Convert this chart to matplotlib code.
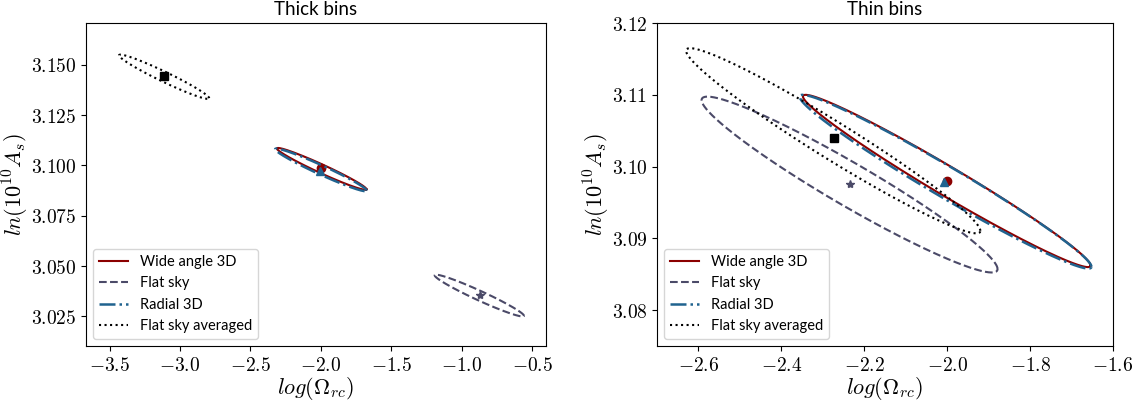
import numpy as np
import matplotlib.pyplot as plt
from matplotlib.ticker import FuncFormatter

plt.rcParams['mathtext.fontset'] = 'cm'

# series labels and styles
labels = ['Wide angle 3D', 'Flat sky', 'Radial 3D', 'Flat sky averaged']
colors = ['#8b0000', '#4b4a68', '#20638f', 'black']
styles = ['-', '--', '-.', ':']
markers = ['o', '*', '^', 's']

# thick bins: best fit (x, y), contour half widths and correlation
thick_x = [-1.995, -0.876, -2.0, -3.113]
thick_y = [3.0983, 3.0353, 3.0978, 3.1441]
thick_pt_x = [-2.0, -0.874, -2.01, -3.111]
thick_pt_y = [3.0985, 3.0355, 3.0972, 3.1443]
thick_sx = [0.318, 0.317, 0.325, 0.32]
thick_sy = [0.0104, 0.0104, 0.0106, 0.011]
thick_rho = [-0.974, -0.968, -0.972, -0.968]

# thin bins
thin_x = [-2.001, -2.2355, -2.004, -2.275]
thin_y = [3.098, 3.0975, 3.0979, 3.1036]
thin_pt_x = [-2.0, -2.235, -2.008, -2.272]
thin_pt_y = [3.098, 3.0976, 3.0979, 3.104]
thin_sx = [0.347, 0.357, 0.352, 0.355]
thin_sy = [0.0120, 0.01225, 0.0121, 0.0129]
thin_rho = [-0.981, -0.96, -0.979, -0.972]


def contour(cx, cy, sx, sy, rho):
    t = np.linspace(0, 2 * np.pi, 400)
    x = cx + sx * np.cos(t)
    y = cy + sy * (rho * np.cos(t) + np.sqrt(1 - rho**2) * np.sin(t))
    return x, y


fig = plt.figure(figsize=(11.35, 4.01), dpi=100)
ax1 = fig.add_axes([0.0758, 0.137, 0.405, 0.8055])
ax2 = fig.add_axes([0.5789, 0.137, 0.4017, 0.8055])

panels = [
    (ax1, 'Thick bins', thick_x, thick_y, thick_pt_x, thick_pt_y, thick_sx, thick_sy, thick_rho),
    (ax2, 'Thin bins', thin_x, thin_y, thin_pt_x, thin_pt_y, thin_sx, thin_sy, thin_rho),
]

for ax, title, cx, cy, px, py, sx, sy, rho in panels:
    for i in range(4):
        x, y = contour(cx[i], cy[i], sx[i], sy[i], rho[i])
        lw = 1.8 if styles[i] == '-.' else 1.5
        ax.plot(x, y, ls=styles[i], color=colors[i], lw=lw, label=labels[i])
        ax.plot(px[i], py[i], marker=markers[i], color=colors[i], ms=6, ls='none')
    ax.set_title(title, fontsize=13.5, family='Lato')
    ax.set_xlabel(r'$log(\Omega_{rc})$', fontsize=16, labelpad=0)
    ax.set_ylabel(r'$ln(10^{10}A_s)$', fontsize=16, labelpad=0)
    ax.legend(loc='lower left', prop={'family': 'Lato', 'size': 10.5})
    ax.tick_params(labelsize=14)

ax1.set_xlim(-3.667, -0.405)
ax1.set_ylim(3.0102, 3.1708)
ax1.set_xticks(np.arange(-3.5, -0.4, 0.5))
ax1.set_yticks(np.arange(3.025, 3.16, 0.025))
ax1.xaxis.set_major_formatter(FuncFormatter(lambda v, p: f'${v:.1f}$'))
ax1.yaxis.set_major_formatter(FuncFormatter(lambda v, p: f'${v:.3f}$'))

ax2.set_xlim(-2.7, -1.6)
ax2.set_ylim(3.075, 3.12)
ax2.set_xticks(np.arange(-2.6, -1.59, 0.2))
ax2.set_yticks(np.arange(3.08, 3.121, 0.01))
ax2.xaxis.set_major_formatter(FuncFormatter(lambda v, p: f'${v:.1f}$'))
ax2.yaxis.set_major_formatter(FuncFormatter(lambda v, p: f'${v:.2f}$'))

fig.savefig('out.png', dpi=100)
